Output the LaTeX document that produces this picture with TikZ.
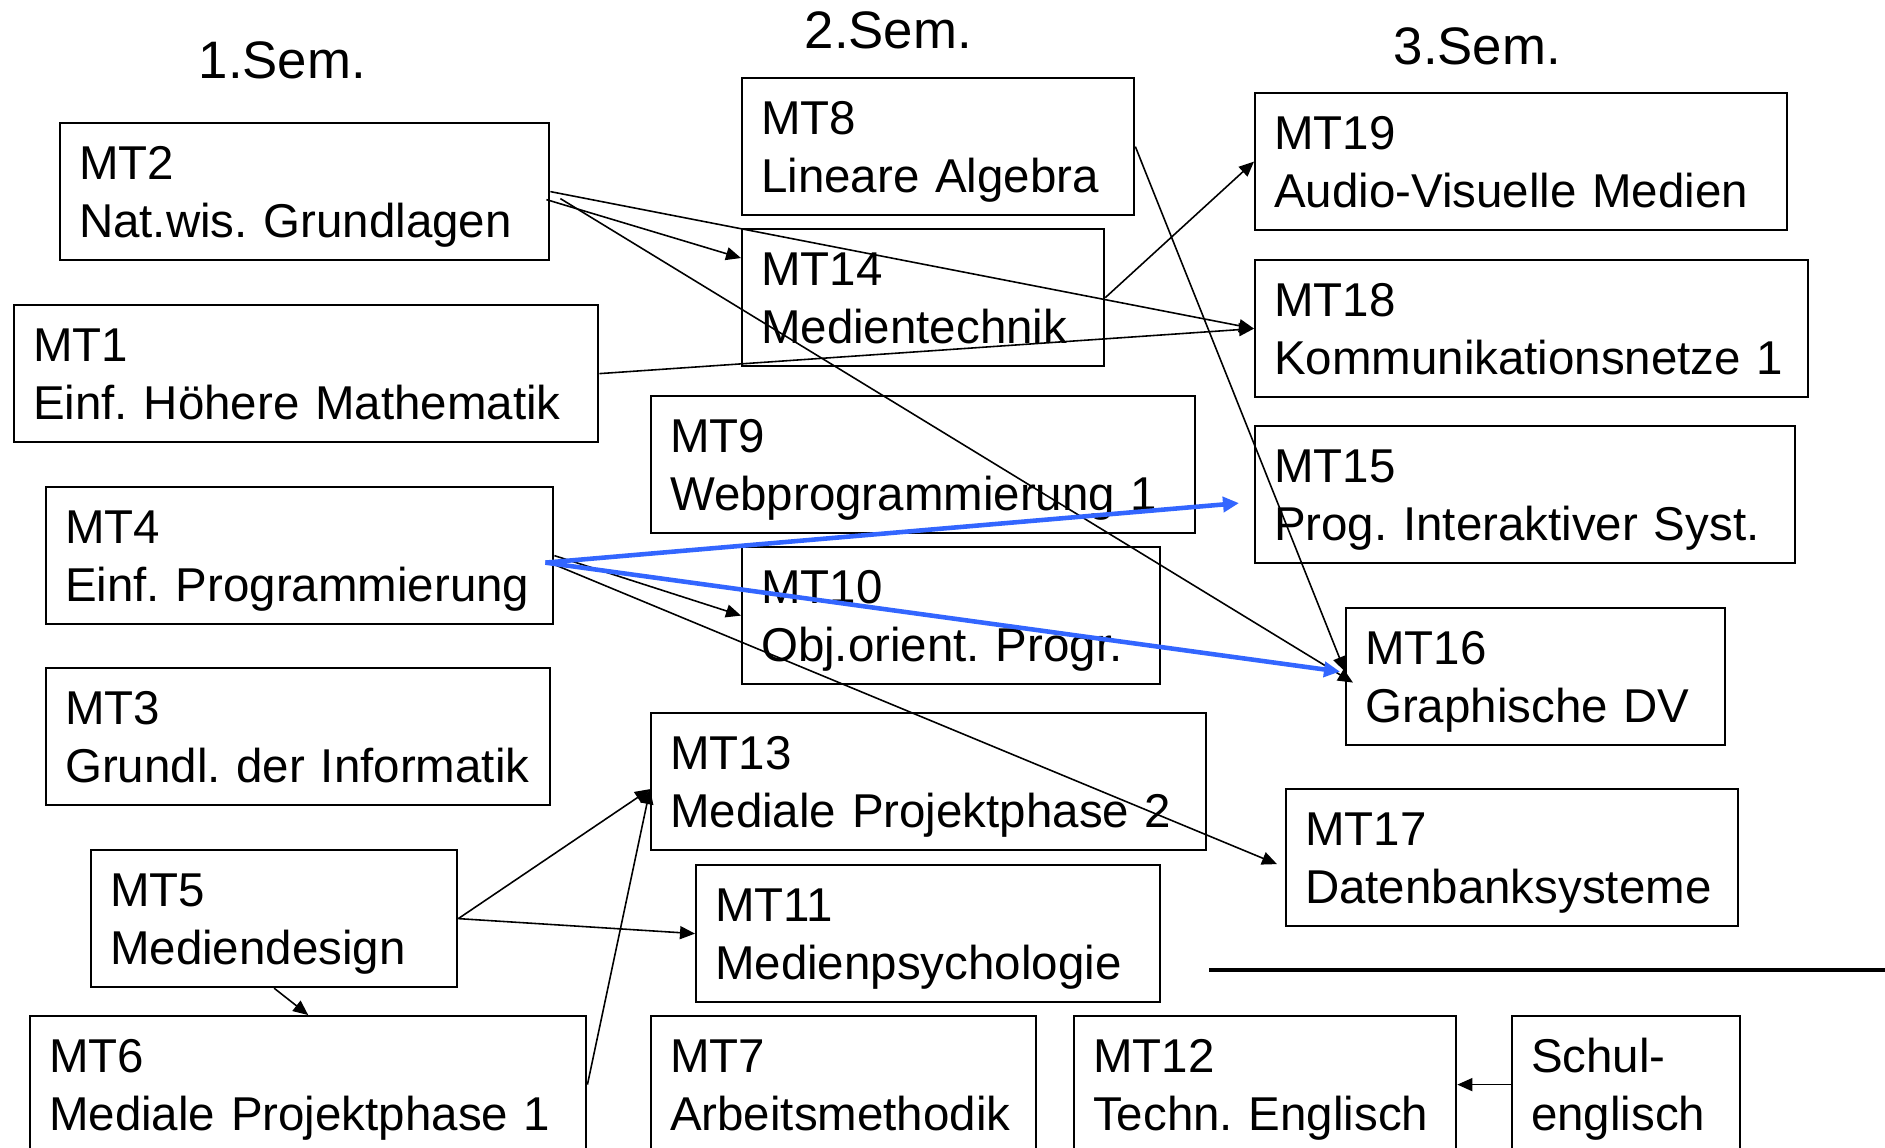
\documentclass[tikz,border=0pt]{standalone}
\usepackage{fontspec}
\setmainfont{Liberation Sans}
\usepackage{tikz}
\usepackage{xcolor}
\usetikzlibrary{arrows.meta}
\definecolor{linkblue}{RGB}{51,102,255}
\tikzset{>=latex}
\frenchspacing

\begin{document}
\begin{tikzpicture}[x=0.01cm, y=-0.01cm,
		box/.style = {draw, line width=0.6pt, anchor=north west,
			inner xsep=0.19cm, inner ysep=0pt,
			text height=0.565cm, text depth=0.805cm, align=left,
			font=\fontsize{13.5}{16.5}\selectfont\frenchspacing},
		sem/.style = {anchor=base west, inner sep=0pt,
			font=\fontsize{15}{17}\selectfont},
		->-/.style = {-{Triangle[length=0.15cm,width=0.13cm]}, line width=0.45pt},
		->-blue/.style = {-{Triangle[length=0.16cm,width=0.15cm]}, line width=1.3pt, color=linkblue},
		]
		\useasboundingbox (0,0) rectangle (1885,1147);
		\node[sem] (sem1) at (198,78) {1.Sem.};
		\node[sem] (sem2) at (804,48) {2.Sem.};
		\node[sem] (sem3) at (1393,64) {3.Sem.};
		% 1. Semester
		\node[box, text width=4.51cm] (mt2) at (59,122) {MT2\\Nat.wis. Grundlagen};
		\node[box, text width=5.46cm] (mt1) at (13,304) {MT1\\Einf. Höhere Mathematik};
		\node[box, text width=4.69cm] (mt4) at (45,486) {MT4\\Einf. Programmierung};
		\node[box, text width=4.66cm] (mt3) at (45,667) {MT3\\Grundl. der Informatik};
		\node[box, text width=3.28cm] (mt5) at (90,849) {MT5\\Mediendesign};
		\node[box, text width=5.18cm] (mt6) at (29,1015) {MT6\\Mediale Projektphase 1};
		% 2. Semester
		\node[box, text width=3.54cm] (mt8) at (741,77) {MT8\\Lineare Algebra};
		\node[box, text width=3.24cm] (mt14) at (741,228) {MT14\\Medientechnik};
		\node[box, text width=5.06cm] (mt9) at (650,395) {MT9\\Webprogrammierung 1};
		\node[box, text width=3.80cm] (mt10) at (741,546) {MT10\\Obj.orient. Progr.};
		\node[box, text width=5.17cm] (mt13) at (650,712) {MT13\\Mediale Projektphase 2};
		\node[box, text width=4.26cm] (mt11) at (695,864) {MT11\\Medienpsychologie};
		\node[box, text width=3.47cm] (mt7) at (650,1015) {MT7\\Arbeitsmethodik};
		% 3. Semester
		\node[box, text width=4.94cm] (mt19) at (1254,92) {MT19\\Audio-Visuelle Medien};
		\node[box, text width=5.15cm] (mt18) at (1254,259) {MT18\\Kommunikationsnetze 1};
		\node[box, text width=5.02cm] (mt15) at (1254,425) {MT15\\Prog. Interaktiver Syst.};
		\node[box, text width=3.41cm] (mt16) at (1345,607) {MT16\\Graphische DV};
		\node[box, text width=4.14cm] (mt17) at (1285,788) {MT17\\Datenbanksysteme};
		\node[box, text width=3.44cm] (mt12) at (1073,1015) {MT12\\Techn. Englisch};
		\node[box, text width=1.90cm] (schul) at (1511,1015) {Schul-\\englisch};
		\draw[line width=1.3pt] (1209,970) -- (1885,970);
		% Abhaengigkeiten
		\draw[->-] ([xshift=-0.04cm,yshift=-0.08cm]mt2.east) -- ([yshift=-0.3cm]mt14.north west);
		\draw[->-] (mt2.east) -- (mt18.west);
		\draw[->-] ([xshift=0.1cm,yshift=-0.07cm]mt2.east) -- ([xshift=0.08cm,yshift=-0.06cm]mt16.west);
		\draw[->-] (mt1.east) -- (mt18.west);
		\draw[->-] (mt14.east) -- (mt19.west);
		\draw[->-] (mt8.east) -- ([yshift=0.05cm]mt16.west);
		\draw[->-] (mt4.east) -- (mt10.west);
		\draw[->-] ([yshift=-0.09cm]mt4.east) -- ([xshift=-0.08cm,yshift=-0.065cm]mt17.west);
		\draw[->-blue] ([xshift=-0.09cm,yshift=-0.07cm]mt4.east) -- ([xshift=-0.15cm,yshift=-0.085cm]mt15.west);
		\draw[->-blue] ([xshift=-0.09cm,yshift=-0.07cm]mt4.east) -- ([xshift=-0.05cm,yshift=0.05cm]mt16.west);
		\draw[->-] (mt5.east) -- ([yshift=-0.075cm]mt13.west);
		\draw[->-] (mt5.east) -- (mt11.west);
		\draw[->-] (mt5.south) -- (mt6.north);
		\draw[->-] (mt6.east) -- ([yshift=-0.075cm]mt13.west);
		\draw[->-] (schul.west) -- (mt12.east);
	\end{tikzpicture}
\end{document}
